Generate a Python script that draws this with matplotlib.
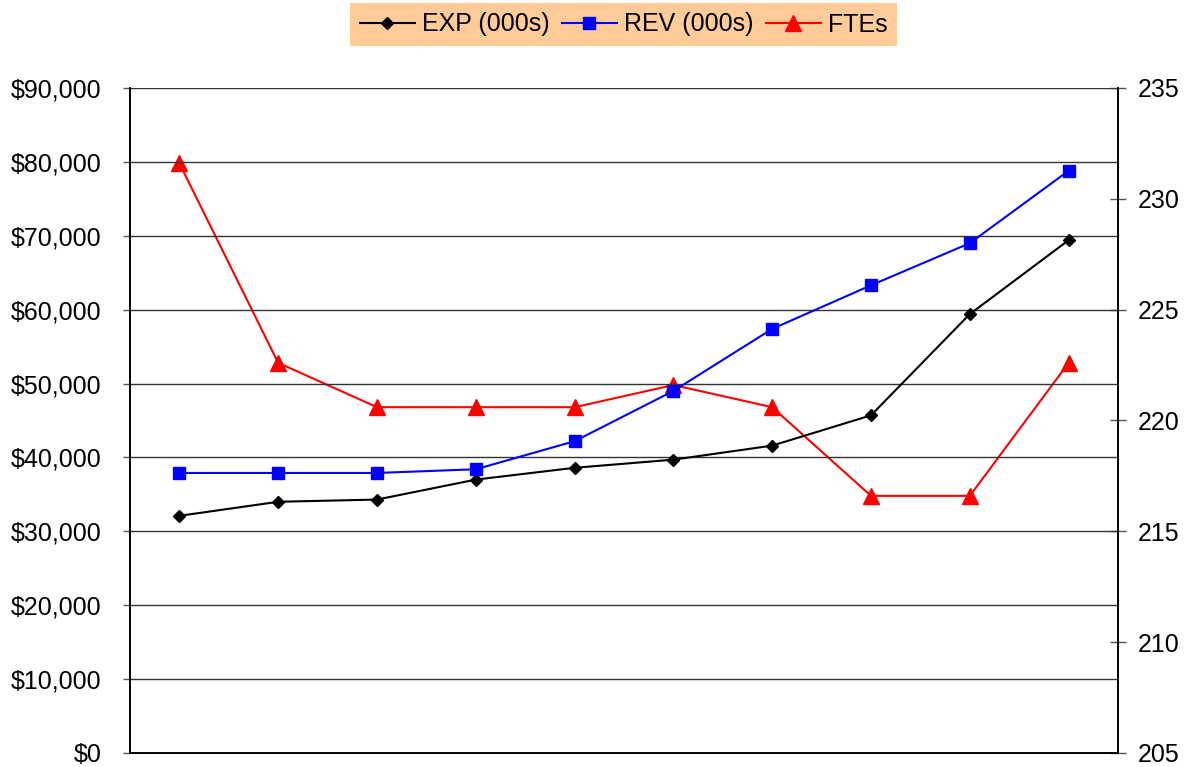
import matplotlib
matplotlib.use("Agg")
import matplotlib.pyplot as plt
from matplotlib.ticker import FuncFormatter, MultipleLocator

plt.rcParams['font.family'] = ['Liberation Sans', 'DejaVu Sans']

periods = list(range(10))
exp_vals = [32100, 34000, 34300, 37000, 38600, 39700, 41600, 45700, 59400, 69400]
rev_vals = [37900, 37900, 37900, 38400, 42200, 49000, 57400, 63300, 69000, 78800]
fte_vals = [231.6, 222.6, 220.6, 220.6, 220.6, 221.6, 220.6, 216.6, 216.6, 222.6]

fig = plt.figure(figsize=(11.9, 7.67), dpi=100)
L, R, T, B = 130, 1118, 88, 753
ax = fig.add_axes([L/1190, 1 - B/767, (R-L)/1190, (B-T)/767])
ax2 = ax.twinx()

l1, = ax.plot(periods, exp_vals, color='black', lw=1.5, marker='D', ms=6.5, label='EXP (000s)')
l2, = ax.plot(periods, rev_vals, color='#0000FF', lw=1.5, marker='s', ms=9, label='REV (000s)')
l3, = ax2.plot(periods, fte_vals, color='#FF0000', lw=1.5, marker='^', ms=11.5, label='FTEs')

ax.set_xlim(-0.5, 9.5)
ax.set_ylim(0, 90000)
ax2.set_ylim(205, 235)
ax.yaxis.set_major_locator(MultipleLocator(10000))
ax2.yaxis.set_major_locator(MultipleLocator(5))
ax.yaxis.set_major_formatter(FuncFormatter(lambda v, p: f"${v:,.0f}"))
ax.set_xticks([])
ax.grid(axis='y', color='#333333', lw=1)
ax.set_axisbelow(True)

for a in (ax, ax2):
    a.spines['top'].set_visible(False)
    for s in ('left', 'right', 'bottom'):
        a.spines[s].set_color('black')
        a.spines[s].set_linewidth(1.2)
ax.tick_params(axis='y', direction='out', length=5, width=1, color='#555555', labelsize=18, pad=15.5)
ax2.tick_params(axis='y', direction='inout', length=11, width=1, color='#555555', labelsize=18, pad=9)
ax.set_zorder(ax2.get_zorder() + 1)
ax.patch.set_visible(False)

leg = fig.legend(handles=[l1, l2, l3], loc='upper center', bbox_to_anchor=(623.5/1190, 1 - 3/767),
                 ncol=3, frameon=True, fontsize=18, handlelength=2.2, handletextpad=0.28,
                 columnspacing=0.5, borderpad=0.38, borderaxespad=0, fancybox=False)
leg.get_frame().set_facecolor('#FFCC99')
leg.get_frame().set_edgecolor('none')
leg.get_frame().set_alpha(1)

fig.savefig('out.png', dpi=100)
